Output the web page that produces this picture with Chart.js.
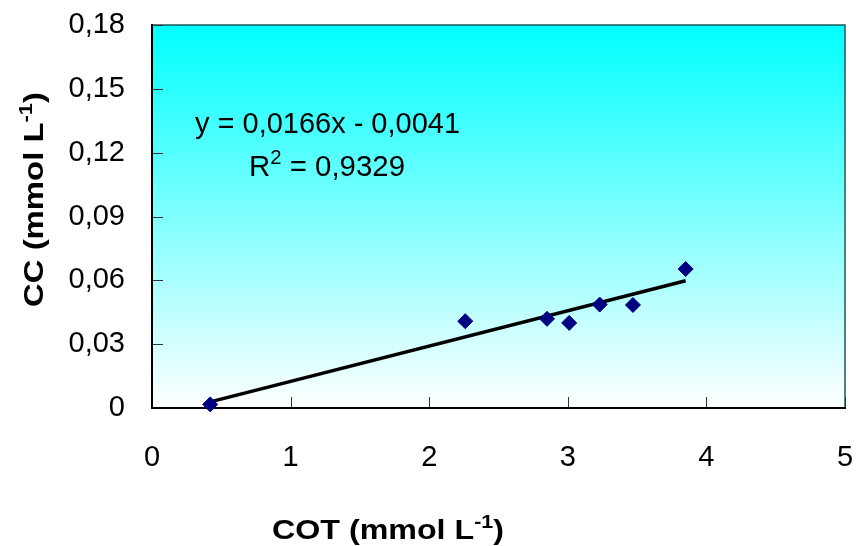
<!DOCTYPE html>
<html>
<head>
<meta charset="utf-8">
<script src="https://cdn.jsdelivr.net/npm/chart.js@4.4.1/dist/chart.umd.min.js"></script>
<style>
html,body{margin:0;padding:0;background:#fff;}
canvas{display:block;}
</style>
</head>
<body>
<canvas id="c" width="858" height="546"></canvas>
<script>
// ---- data ----
const cotValues = [0.42, 2.26, 2.85, 3.01, 3.23, 3.47, 3.85];
const ccValues  = [0.0017, 0.0408, 0.0419, 0.0400, 0.0486, 0.0484, 0.0653];
const trendX = [0.42, 3.85];
const trendY = [0.0029, 0.0598];
const xTickLabels = ['0', '1', '2', '3', '4', '5'];
const yTickLabels = ['0', '0,03', '0,06', '0,09', '0,12', '0,15', '0,18'];
const equationText = 'y = 0,0166x - 0,0041';
const r2Base = 'R';
const r2Sup = '2';
const r2Rest = ' = 0,9329';
const xTitleMain = 'COT (mmol L';
const yTitleMain = 'CC (mmol L';
const titleSup = '-1';
const titleEnd = ')';

const FONT = '"Liberation Sans", Arial, sans-serif';

function partsWidth(ctx, parts, size, bold) {
  let w = 0;
  parts.forEach(p => {
    const fs = p.sup ? Math.round(size * 0.68) : size;
    ctx.font = (bold ? 'bold ' : '') + fs + 'px ' + FONT;
    w += ctx.measureText(p.t).width;
  });
  return w;
}
function drawParts(ctx, parts, x, y, size, bold, targetW) {
  ctx.save();
  ctx.translate(x, y);
  if (targetW) {
    const w = partsWidth(ctx, parts, size, bold);
    ctx.scale(targetW / w, 1);
  }
  let cx = 0;
  parts.forEach(p => {
    const fs = p.sup ? Math.round(size * 0.68) : size;
    ctx.font = (bold ? 'bold ' : '') + fs + 'px ' + FONT;
    const dy = p.sup ? -size * 0.4 : 0;
    ctx.fillText(p.t, cx, dy);
    cx += ctx.measureText(p.t).width;
  });
  ctx.restore();
}

const decor = {
  id: 'decor',
  beforeDatasetsDraw(chart) {
    const {ctx, chartArea: a, scales} = chart;
    ctx.save();
    const g = ctx.createLinearGradient(0, a.top, 0, a.bottom);
    g.addColorStop(0, '#00FFFF');
    g.addColorStop(1, '#FFFFFF');
    ctx.fillStyle = g;
    ctx.fillRect(a.left, a.top, a.right - a.left, a.bottom - a.top);
    // top & right border
    ctx.strokeStyle = '#1d5a5a';
    ctx.lineWidth = 1.5;
    ctx.beginPath();
    ctx.moveTo(a.left, a.top);
    ctx.lineTo(a.right, a.top);
    ctx.lineTo(a.right, a.bottom);
    ctx.stroke();
    // inner ticks
    ctx.strokeStyle = '#333';
    ctx.lineWidth = 1;
    ctx.beginPath();
    scales.y.ticks.forEach(t => {
      const py = Math.round(scales.y.getPixelForValue(t.value)) + 0.5;
      ctx.moveTo(a.left, py);
      ctx.lineTo(a.left + 11, py);
    });
    scales.x.ticks.forEach(t => {
      const px = Math.round(scales.x.getPixelForValue(t.value)) + 0.5;
      ctx.moveTo(px, a.bottom);
      ctx.lineTo(px, a.bottom - 11);
    });
    ctx.stroke();
    // left & bottom axis
    ctx.strokeStyle = '#000';
    ctx.lineWidth = 2;
    ctx.beginPath();
    ctx.moveTo(a.left, a.top - 1);
    ctx.lineTo(a.left, a.bottom);
    ctx.lineTo(a.right + 1, a.bottom);
    ctx.stroke();
    ctx.restore();
  },
  afterDraw(chart) {
    const {ctx} = chart;
    ctx.save();
    ctx.fillStyle = '#000';
    ctx.textBaseline = 'alphabetic';
    ctx.textAlign = 'left';
    // equation
    drawParts(ctx, [{t: equationText}], 195, 133, 29, false, 265);
    drawParts(ctx, [{t: r2Base}, {t: r2Sup, sup: true}, {t: r2Rest}], 249, 176, 29, false, 156);
    // x title
    drawParts(ctx, [{t: xTitleMain}, {t: titleSup, sup: true}, {t: titleEnd}], 272, 539, 27, true, 232);
    // y title
    ctx.translate(43, 307);
    ctx.rotate(-Math.PI / 2);
    drawParts(ctx, [{t: yTitleMain}, {t: titleSup, sup: true}, {t: titleEnd}], 0, 0, 27, true, 215);
    ctx.restore();
  }
};

function noPad(s) { s.paddingTop = 0; s.paddingBottom = 0; s.paddingLeft = 0; s.paddingRight = 0; }

const ctx = document.getElementById('c').getContext('2d');
new Chart(ctx, {
  type: 'scatter',
  data: {
    datasets: [
      {
        label: 'CC',
        data: cotValues.map((x, i) => ({x, y: ccValues[i]})),
        pointStyle: 'rectRot',
        pointRadius: 7.5,
        pointHoverRadius: 7.5,
        backgroundColor: '#000080',
        borderColor: '#000080',
        borderWidth: 1,
        clip: false,
        order: 1
      },
      {
        label: 'trend',
        type: 'line',
        data: trendX.map((x, i) => ({x, y: trendY[i]})),
        borderColor: '#000',
        borderWidth: 3.5,
        pointRadius: 0,
        fill: false,
        clip: false,
        order: 2
      }
    ]
  },
  options: {
    responsive: false,
    animation: false,
    devicePixelRatio: 1,
    layout: {padding: {left: 0, top: 25, right: 13, bottom: 0}},
    plugins: {legend: {display: false}, tooltip: {enabled: false}},
    scales: {
      x: {
        type: 'linear',
        min: 0, max: 5,
        border: {display: false},
        grid: {display: false, drawTicks: false},
        ticks: {
          stepSize: 1,
          padding: 33,
          color: '#000',
          font: {family: FONT, size: 29},
          callback: (v, i) => xTickLabels[i]
        },
        afterFit: s => { s.height = 138; noPad(s); }
      },
      y: {
        min: 0, max: 0.18,
        border: {display: false},
        grid: {display: false, drawTicks: false},
        ticks: {
          stepSize: 0.03,
          padding: 27,
          color: '#000',
          font: {family: FONT, size: 29},
          callback: (v, i) => yTickLabels[i]
        },
        afterFit: s => { s.width = 152; noPad(s); }
      }
    }
  },
  plugins: [decor]
});
</script>
</body>
</html>
